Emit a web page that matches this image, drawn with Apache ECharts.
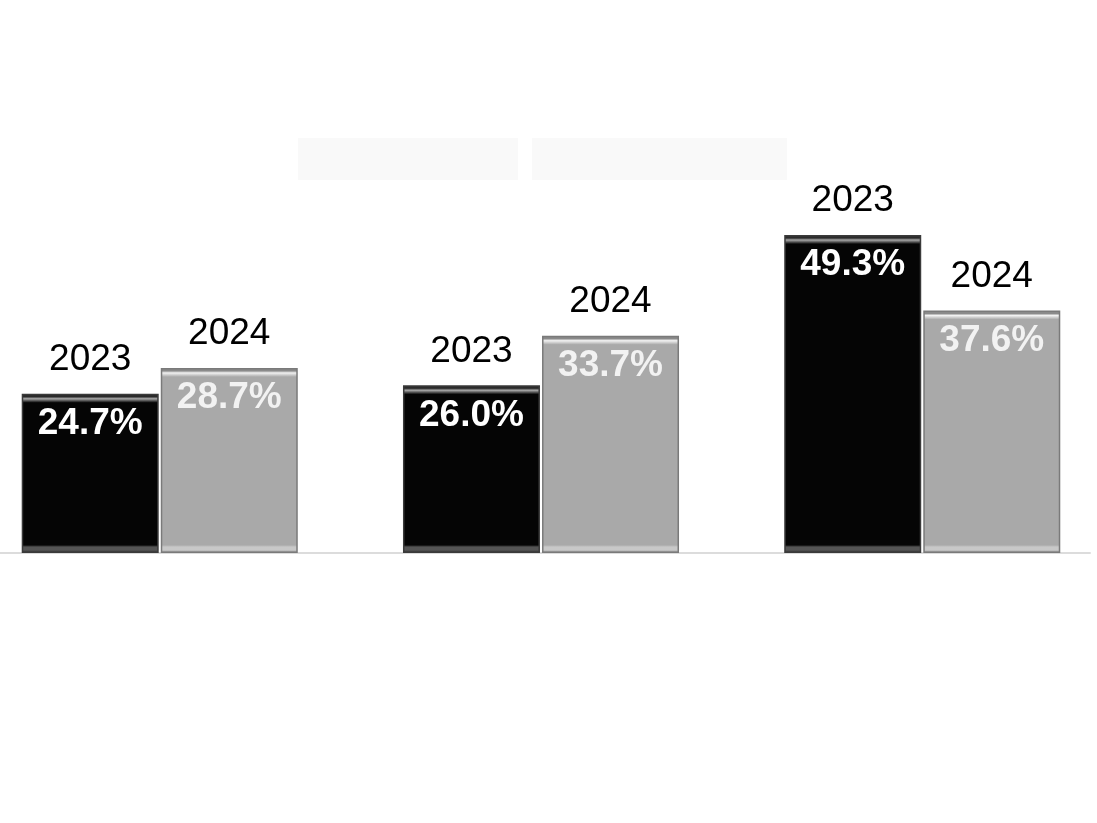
<!DOCTYPE html>
<html>
<head>
<meta charset="utf-8">
<script src="https://cdn.jsdelivr.net/npm/echarts@6/dist/echarts.min.js"></script>
<style>
    html, body { margin: 0; padding: 0; background: #fff; }
    #chart1 { width: 1097px; height: 823px; }
</style>
</head>
<body>
<div id="chart1"></div>
<script>
// 数据
var categories = ['A', 'B', 'C'];
var years = ['2023', '2024'];
var values2023 = [24.7, 26.0, 49.3];
var values2024 = [28.7, 33.7, 37.6];

var pxPerUnit = 6.45; // 轴高 / 最大值, 用于让高光条保持固定像素

// 带斜面效果的渐变
function bevel(value, edge, light, body, foot) {
    var h = value * pxPerUnit;
    return {
        type: 'linear', x: 0, y: 0, x2: 0, y2: 1,
        colorStops: [
            { offset: 0, color: edge },
            { offset: 3 / h, color: edge },
            { offset: 5 / h, color: light },
            { offset: 9 / h, color: body },
            { offset: 1 - 8 / h, color: body },
            { offset: 1 - 6 / h, color: foot },
            { offset: 1 - 3 / h, color: foot },
            { offset: 1, color: edge }
        ]
    };
}

// 数值轴上用类目序号作为 x
function makeData(vals, edge, light, body, foot) {
    return vals.map(function(v, i) {
        return { value: [i, v], itemStyle: { color: bevel(v, edge, light, body, foot) } };
    });
}

function makeLabel(year, valueColor) {
    return {
        show: true,
        position: 'insideTop',
        offset: [0, -59],
        formatter: function(p) {
            return '{y|' + year + '}\n{v|' + p.value[1].toFixed(1) + '%}';
        },
        rich: {
            y: { fontSize: 37, color: '#000', lineHeight: 40, fontFamily: 'Arial, "Liberation Sans"' },
            v: { fontSize: 37, color: valueColor, fontWeight: 'bold', lineHeight: 88, fontFamily: 'Arial, "Liberation Sans"' }
        }
    };
}

var myChart = echarts.init(document.getElementById('chart1'));

var option = {
    animation: false,
    backgroundColor: '#fff',
    graphic: [
        { type: 'rect', shape: { x: 298, y: 138, width: 220, height: 42 }, style: { fill: '#f9f9f9' } },
        { type: 'rect', shape: { x: 532, y: 138, width: 255, height: 42 }, style: { fill: '#f9f9f9' } }
    ],
    grid: { left: 0, right: 7, top: 166, bottom: 270 },
    xAxis: {
        type: 'value',
        min: -0.419,
        max: 2.44,
        axisLine: { show: true, onZero: false, lineStyle: { color: '#dcdcdc', width: 2 } },
        axisTick: { show: false },
        axisLabel: { show: false },
        splitLine: { show: false }
    },
    yAxis: {
        type: 'value',
        min: 0,
        max: 60,
        show: false,
        splitLine: { show: false }
    },
    series: [{
        name: years[0],
        type: 'bar',
        barWidth: 137,
        barGap: '1.5%',
        itemStyle: { borderColor: '#3a3a3a', borderWidth: 1.5 },
        data: makeData(values2023, '#2a2a2a', '#a8a8a8', '#050505', '#555555'),
        label: makeLabel(years[0], '#ffffff')
    }, {
        name: years[1],
        type: 'bar',
        barWidth: 137,
        barGap: '1.5%',
        itemStyle: { borderColor: '#7a7a7a', borderWidth: 1.5 },
        data: makeData(values2024, '#8a8a8a', '#f2f2f2', '#a9a9a9', '#c8c8c8'),
        label: makeLabel(years[1], '#f2f2f2')
    }]
};

myChart.setOption(option);
</script>
</body>
</html>
